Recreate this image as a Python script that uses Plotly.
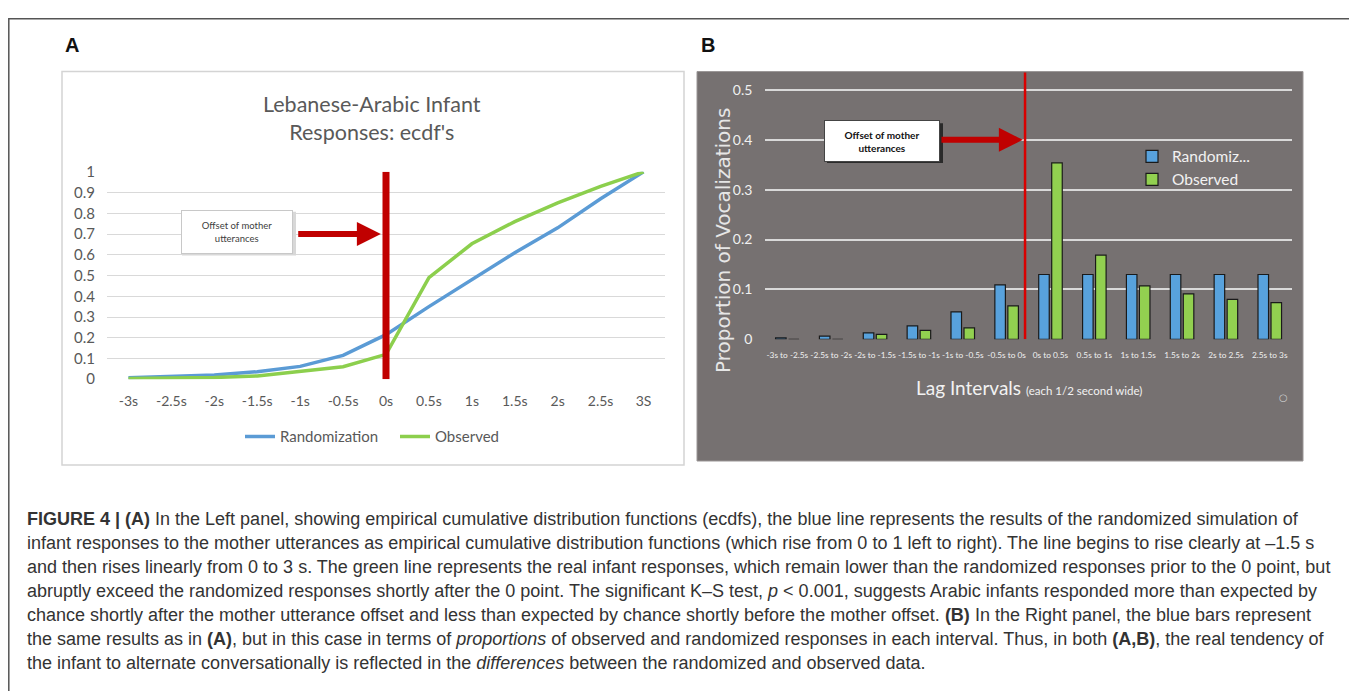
import plotly.graph_objects as go

# page body has an 8px default margin, so the figure is offset by 8px
OFF = 8
W, H = 1357 - OFF, 691 - OFF

def px(x):
    return (x - OFF) / W

def py(y):
    return 1 - (y - OFF) / H

# ---------------- data ----------------
lag_values = [-3, -2.5, -2, -1.5, -1, -0.5, 0, 0.5, 1, 1.5, 2, 2.5, 3]
lag_labels = ["-3s", "-2.5s", "-2s", "-1.5s", "-1s", "-0.5s", "0s", "0.5s", "1s", "1.5s", "2s", "2.5s", "3S"]
randomization_cdf = [0.007, 0.012, 0.02, 0.036, 0.062, 0.115, 0.215, 0.35, 0.48, 0.61, 0.73, 0.87, 1.0]
observed_cdf = [0.003, 0.005, 0.008, 0.016, 0.036, 0.06, 0.12, 0.49, 0.653, 0.76, 0.85, 0.93, 1.0]

intervals = ["-3s to -2.5s", "-2.5s to -2s", "-2s to -1.5s", "-1.5s to -1s", "-1s to -0.5s",
             "-0.5s to 0s", "0s to 0.5s", "0.5s to 1s", "1s to 1.5s", "1.5s to 2s",
             "2s to 2.5s", "2.5s to 3s"]
randomized_prop = [0.003, 0.0065, 0.013, 0.027, 0.055, 0.109, 0.13, 0.13, 0.13, 0.13, 0.13, 0.13]
observed_prop = [0.0, 0.0, 0.0098, 0.018, 0.023, 0.067, 0.354, 0.169, 0.107, 0.091, 0.080, 0.0735]

offset_a = 0          # mother offset on panel A axis
offset_b = 5.42       # mother offset on panel B category axis
offset_label = "Offset of mother<br>utterances"

caption_lines = [
    "<b>FIGURE 4 | (A)</b> In the Left panel, showing empirical cumulative distribution functions (ecdfs), the blue line represents the results of the randomized simulation of",
    "infant responses to the mother utterances as empirical cumulative distribution functions (which rise from 0 to 1 left to right). The line begins to rise clearly at \u20131.5 s",
    "and then rises linearly from 0 to 3 s. The green line represents the real infant responses, which remain lower than the randomized responses prior to the 0 point, but",
    "abruptly exceed the randomized responses shortly after the 0 point. The significant K\u2013S test, <i>p</i> &lt; 0.001, suggests Arabic infants responded more than expected by",
    "chance shortly after the mother utterance offset and less than expected by chance shortly before the mother offset. <b>(B)</b> In the Right panel, the blue bars represent",
    "the same results as in <b>(A)</b>, but in this case in terms of <i>proportions</i> of observed and randomized responses in each interval. Thus, in both <b>(A,B)</b>, the real tendency of",
    "the infant to alternate conversationally is reflected in the <i>differences</i> between the randomized and observed data.",
]

BLUE_LINE = "#5B9BD5"
GREEN_LINE = "#8CCF4D"
BLUE_BAR = "#58A2DD"
GREEN_BAR = "#92D050"
DARK_RED = "#C00000"
PANEL_B_BG = "#767171"
CAL = "Lato, Open Sans, sans-serif"

fig = go.Figure()

# ---------------- panel A ----------------
fig.add_trace(go.Scatter(x=lag_values, y=randomization_cdf, mode="lines", name="Randomization",
                         line=dict(color=BLUE_LINE, width=3.5), xaxis="x", yaxis="y",
                         legend="legend", hoverinfo="skip"))
fig.add_trace(go.Scatter(x=lag_values, y=observed_cdf, mode="lines", name="Observed",
                         line=dict(color=GREEN_LINE, width=3.5), xaxis="x", yaxis="y",
                         legend="legend", hoverinfo="skip"))

# ---------------- panel B ----------------
fig.add_trace(go.Bar(x=intervals, y=randomized_prop, name="Randomiz...", xaxis="x2", yaxis="y2",
                     marker=dict(color=BLUE_BAR, line=dict(color="#1a1a1a", width=1.2)),
                     legend="legend2", hoverinfo="skip"))
fig.add_trace(go.Bar(x=intervals, y=observed_prop, name="Observed", xaxis="x2", yaxis="y2",
                     marker=dict(color=GREEN_BAR, line=dict(color="#1a1a1a", width=1.2)),
                     legend="legend2", hoverinfo="skip"))

shapes = [
    # outer frame
    dict(type="rect", xref="paper", yref="paper", x0=px(8.8), x1=px(1354), y0=py(705), y1=py(8.8),
         line=dict(color="#555555", width=1.5), fillcolor="rgba(0,0,0,0)", layer="below"),
    # panel A frame
    dict(type="rect", xref="paper", yref="paper", x0=px(62), x1=px(684), y0=py(467), y1=py(63),
         line=dict(color="#D4D4D4", width=1.5), fillcolor="white", layer="below"),
    # panel B background
    dict(type="rect", xref="paper", yref="paper", x0=px(697), x1=px(1303), y0=py(463), y1=py(63),
         line=dict(color="#9a9696", width=1), fillcolor=PANEL_B_BG, layer="below"),
    # red offset line A
    dict(type="line", xref="x", yref="y", x0=offset_a, x1=offset_a, y0=0, y1=1,
         line=dict(color=DARK_RED, width=7)),
    # red offset line B
    dict(type="line", xref="x2", yref="y2", x0=offset_b, x1=offset_b, y0=0, y1=0.535,
         line=dict(color="#D90000", width=2.5)),
    # shadow of the B text box
    dict(type="rect", xref="paper", yref="paper", x0=px(827), x1=px(943), y0=py(157), y1=py(116),
         line=dict(width=0), fillcolor="#2a2a2a", layer="above"),
    # shadow of the A text box
    dict(type="rect", xref="paper", yref="paper", x0=px(182), x1=px(296), y0=py(252), y1=py(207),
         line=dict(width=0), fillcolor="#d8d8d8", layer="above"),
]

annotations = [
    dict(text="<b>A</b>", xref="paper", yref="paper", x=px(72), y=py(36), showarrow=False,
         xanchor="center", yanchor="middle",
         font=dict(family="Liberation Sans, Arial", size=20, color="#111")),
    dict(text="<b>B</b>", xref="paper", yref="paper", x=px(708), y=py(36), showarrow=False,
         xanchor="center", yanchor="middle",
         font=dict(family="Liberation Sans, Arial", size=20, color="#111")),
    # panel A title
    dict(text="Lebanese-Arabic Infant<br>Responses: ecdf's", xref="paper", yref="paper",
         x=px(372), y=py(111), showarrow=False, align="center", xanchor="center", yanchor="middle",
         font=dict(family=CAL, size=21.5, color="#595959")),
    # arrows
    dict(text="", xref="x", yref="y", axref="x", ayref="y", x=-0.06, y=0.7, ax=-1.04, ay=0.7,
         showarrow=True, arrowhead=2, arrowsize=0.8, arrowwidth=6, arrowcolor=DARK_RED, standoff=0),
    dict(text="", xref="x2", yref="y2", axref="x2", ayref="y2", x=5.37, y=0.4, ax=3.48, ay=0.4,
         showarrow=True, arrowhead=2, arrowsize=0.8, arrowwidth=6, arrowcolor=DARK_RED, standoff=0),
    # text boxes
    dict(text=offset_label, xref="paper", yref="paper", x=px(237), y=py(227.5), showarrow=False,
         xanchor="center", yanchor="middle",
         width=110, height=42, bgcolor="white", bordercolor="#C8C8C8", borderwidth=1, borderpad=0,
         font=dict(family=CAL, size=9.5, color="#404040")),
    dict(text="<b>" + offset_label + "</b>", xref="paper", yref="paper", x=px(882), y=py(134),
         showarrow=False, xanchor="center", yanchor="middle",
         width=114, height=40, bgcolor="white", bordercolor="#444", borderwidth=1, borderpad=0,
         font=dict(family=CAL, size=10, color="#111")),
    # panel B axis titles
    dict(text="Proportion of Vocalizations", xref="paper", yref="paper", x=px(723), y=py(236),
         textangle=-90, showarrow=False, xanchor="center", yanchor="middle",
         font=dict(family="DejaVu Sans", size=20, color="#E6E6E6")),
    dict(text="Lag Intervals <span style='font-size:11.5px'>(each 1/2 second wide)</span>",
         xref="paper", yref="paper", x=px(1029), y=py(388), showarrow=False,
         xanchor="center", yanchor="middle",
         font=dict(family=CAL, size=19, color="#F2F2F2")),
    dict(text="\u25cb", xref="paper", yref="paper", x=px(1283), y=py(398), showarrow=False,
         xanchor="center", yanchor="middle",
         font=dict(family="DejaVu Sans", size=10, color="#CFCFCF")),
]

for i, line in enumerate(caption_lines):
    annotations.append(dict(text=line, xref="paper", yref="paper", x=px(25), y=py(523 + i * 24.5),
                            xanchor="left", yanchor="middle", showarrow=False, align="left",
                            font=dict(family="Liberation Sans, Arial", size=18, color="#333333")))

fig.update_layout(
    width=W, height=H, autosize=False,
    margin=dict(l=0, r=0, t=0, b=0),
    paper_bgcolor="white", plot_bgcolor="rgba(0,0,0,0)",
    barmode="group", bargap=0.407, bargroupgap=0.19,
    shapes=shapes, annotations=annotations,
    xaxis=dict(domain=[px(107), px(665)], range=[-3.25, 3.25], tickvals=lag_values, ticktext=lag_labels,
               showgrid=False, zeroline=False, showline=False, ticks="", ticklabelstandoff=12,
               tickfont=dict(family=CAL, size=14, color="#595959"), anchor="y", fixedrange=True),
    yaxis=dict(domain=[py(379), py(166)], range=[0, 1], tickvals=[i / 10 for i in range(11)],
               ticktext=["0", "0.1", "0.2", "0.3", "0.4", "0.5", "0.6", "0.7", "0.8", "0.9", "1"],
               showgrid=True, gridcolor="#D9D9D9", gridwidth=1.3, zeroline=False, showline=False,
               ticks="", ticklabelstandoff=11, tickfont=dict(family=CAL, size=15, color="#595959"),
               anchor="x", fixedrange=True),
    xaxis2=dict(domain=[px(765.4), px(1291.7)], type="category", categoryorder="array",
                categoryarray=intervals, showgrid=False, zeroline=False, showline=False, ticks="",
                tickangle=0, ticklabelstandoff=9,
                tickfont=dict(family=CAL, size=8.3, color="#F0F0F0"), anchor="y2", fixedrange=True),
    yaxis2=dict(domain=[py(338), py(63)], range=[0, 0.537], tickvals=[0, 0.1, 0.2, 0.3, 0.4, 0.5],
                ticktext=["0", "0.1", "0.2", "0.3", "0.4", "0.5"], showgrid=True, gridcolor="#D9D9D9",
                gridwidth=2, zeroline=False, showline=False, ticks="", ticklabelstandoff=12,
                tickfont=dict(family=CAL, size=14, color="#F0F0F0"), anchor="x2", fixedrange=True),
    legend=dict(orientation="h", x=px(240), xanchor="left", y=py(438), yanchor="middle",
                bgcolor="rgba(0,0,0,0)", font=dict(family=CAL, size=15, color="#595959"),
                entrywidth=110, entrywidthmode="pixels"),
    legend2=dict(orientation="v", x=px(1132), xanchor="left", y=py(133), yanchor="top",
                 bgcolor="rgba(0,0,0,0)", font=dict(family=CAL, size=15.5, color="#F2F2F2"),
                 tracegroupgap=2),
    showlegend=True,
)

fig.write_html("out.html")
